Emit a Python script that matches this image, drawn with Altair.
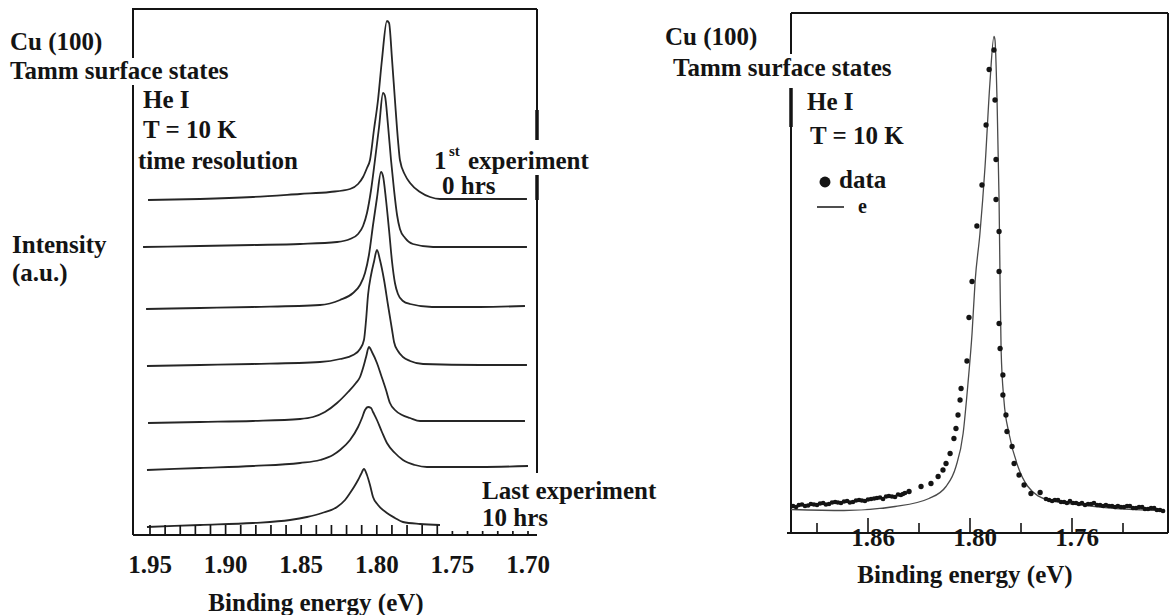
import altair as alt
import pandas as pd

# ---------------- left panel: successive spectra, stacked (a.u.) ----------------
s1_E = [1.9513, 1.9169, 1.8819, 1.8508, 1.8310, 1.8177, 1.8124, 1.8091, 1.8065, 1.8045, 1.8019, 1.7992,
        1.7966, 1.7933, 1.7919, 1.7899, 1.7880, 1.7860, 1.7847, 1.7813, 1.7780, 1.7714, 1.7648, 1.7582,
        1.7317, 1.7007]
s1_I = [67.0, 67.2, 67.6, 68.2, 68.6, 69.2, 70.2, 71.6, 73.4, 75.0, 81.0, 87.0,
        95.0, 102.8, 102.4, 95.0, 87.0, 79.0, 75.0, 72.0, 70.4, 68.6, 67.6, 67.2,
        67.2, 67.2]

s2_E = [1.9546, 1.9169, 1.8819, 1.8508, 1.8263, 1.8177, 1.8124, 1.8091, 1.8065, 1.8038, 1.8012, 1.7985,
        1.7959, 1.7946, 1.7926, 1.7906, 1.7886, 1.7866, 1.7847, 1.7813, 1.7761, 1.7628, 1.7317, 1.7007]
s2_I = [57.6, 57.8, 58.0, 58.2, 58.6, 59.2, 60.2, 61.8, 64.4, 69.0, 75.0, 81.6,
        88.4, 87.8, 82.0, 75.0, 69.0, 64.0, 61.2, 59.4, 58.2, 57.6, 57.6, 57.6]

s3_E = [1.9526, 1.9169, 1.8819, 1.8376, 1.8243, 1.8157, 1.8111, 1.8078, 1.8052, 1.8025, 1.7999, 1.7972,
        1.7959, 1.7939, 1.7919, 1.7899, 1.7880, 1.7860, 1.7827, 1.7780, 1.7635, 1.7317, 1.7020]
s3_I = [45.2, 45.4, 45.6, 46.0, 47.0, 48.4, 50.0, 52.4, 56.0, 62.0, 67.4, 72.6,
        71.8, 67.0, 61.0, 54.6, 50.4, 48.2, 46.8, 46.2, 45.6, 45.6, 45.8]

s4_E = [1.9520, 1.9169, 1.8819, 1.8376, 1.8243, 1.8157, 1.8111, 1.8085, 1.8071, 1.8058, 1.8038, 1.8019,
        1.7999, 1.7979, 1.7952, 1.7926, 1.7899, 1.7886, 1.7860, 1.7827, 1.7780, 1.7694, 1.7317, 1.7007]
s4_I = [33.8, 34.0, 34.2, 34.6, 35.2, 36.0, 37.2, 39.0, 43.0, 48.0, 52.0, 54.6,
        57.0, 55.0, 51.0, 46.0, 41.0, 38.6, 36.8, 35.6, 34.8, 34.2, 34.0, 34.0]

s5_E = [1.9513, 1.9169, 1.8819, 1.8508, 1.8422, 1.8343, 1.8263, 1.8190, 1.8138, 1.8111, 1.8091, 1.8071,
        1.8052, 1.8032, 1.7999, 1.7972, 1.7939, 1.7913, 1.7880, 1.7833, 1.7780, 1.7714, 1.7317, 1.7020]
s5_I = [22.4, 22.6, 22.8, 23.2, 23.6, 24.6, 26.4, 28.6, 30.4, 31.6, 33.4, 35.6,
        37.6, 36.6, 34.4, 32.0, 29.0, 26.4, 25.0, 24.0, 23.4, 22.8, 22.8, 22.8]

s6_E = [1.9520, 1.9169, 1.8819, 1.8508, 1.8376, 1.8290, 1.8243, 1.8177, 1.8124, 1.8098, 1.8078, 1.8058,
        1.8038, 1.8025, 1.7999, 1.7966, 1.7933, 1.7880, 1.7827, 1.7747, 1.7668, 1.7317, 1.7000]
s6_I = [13.0, 13.4, 13.8, 14.4, 15.0, 16.0, 17.0, 19.0, 21.6, 23.4, 25.0, 25.6,
        25.4, 24.6, 23.0, 20.6, 18.4, 16.4, 15.0, 14.0, 13.6, 13.6, 13.8]

s7_E = [1.9520, 1.9169, 1.8819, 1.8574, 1.8462, 1.8362, 1.8263, 1.8210, 1.8177, 1.8151, 1.8124, 1.8104,
        1.8085, 1.8065, 1.8045, 1.8025, 1.7992, 1.7933, 1.7880, 1.7827, 1.7714, 1.7582]
s7_I = [1.6, 2.0, 2.4, 3.0, 3.6, 4.4, 5.6, 7.0, 8.4, 9.6, 11.0, 12.2,
        13.2, 12.0, 10.0, 7.6, 6.0, 4.4, 3.4, 2.6, 2.2, 2.0]

left_tick_labels = [1.95, 1.90, 1.85, 1.80, 1.75, 1.70]
left_ticks_long = [1.95, 1.94, 1.93, 1.92, 1.91, 1.90, 1.89, 1.88, 1.87, 1.86,
                   1.85, 1.84, 1.83, 1.82, 1.81, 1.80, 1.79, 1.78, 1.77, 1.76]
left_ticks_short = [1.75, 1.74, 1.73, 1.72, 1.71, 1.70]

# ---------------- right panel: single spectrum with line shape fit ----------------
fit_E = [1.8702, 1.8494, 1.8294, 1.8161, 1.8094, 1.8055, 1.8027, 1.8008, 1.7992, 1.7980, 1.7961, 1.7941,
         1.7922, 1.7906, 1.7902, 1.7894, 1.7886, 1.7882, 1.7878, 1.7867, 1.7847, 1.7812, 1.7773, 1.7694,
         1.7561, 1.7427, 1.7255]
fit_I = [4.7, 4.5, 5.3, 6.9, 9.3, 13.3, 19.9, 29.9, 39.9, 50.3, 59.9, 73.3,
         89.9, 99.3, 98.6, 86.6, 66.6, 49.9, 36.6, 26.6, 19.9, 13.3, 9.3, 6.6,
         5.6, 4.9, 4.5]

peak_E = [1.7906, 1.7925, 1.7902, 1.7937, 1.7898, 1.7953, 1.7898, 1.7973, 1.7886, 1.7992, 1.7886, 1.8004,
          1.7886, 1.7882, 1.8012, 1.7871, 1.8035, 1.7871, 1.8039, 1.7859, 1.8047, 1.8055, 1.7855, 1.8063,
          1.7835, 1.8078, 1.7827, 1.8094, 1.8106, 1.7808, 1.8125, 1.8153, 1.7788, 1.8192, 1.7761, 1.7725,
          1.8239]
peak_I = [96.6, 92.7, 86.6, 81.6, 74.7, 69.6, 66.7, 61.4, 60.3, 50.3, 52.3, 43.1,
          41.9, 36.9, 34.4, 31.6, 28.9, 27.6, 26.6, 23.6, 23.6, 20.9, 20.3, 18.9,
          17.3, 15.9, 13.9, 13.9, 12.6, 11.6, 11.3, 9.9, 9.6, 9.3, 7.9, 8.1,
          8.3]

tail_E = [1.8694, 1.8682, 1.8671, 1.8659, 1.8647, 1.8635, 1.8624, 1.8612, 1.8600, 1.8588, 1.8576, 1.8565,
          1.8553, 1.8541, 1.8529, 1.8518, 1.8506, 1.8494, 1.8482, 1.8471, 1.8459, 1.8447, 1.8435, 1.8424,
          1.8412, 1.8400, 1.8388, 1.8376, 1.8365, 1.8353, 1.8341, 1.8329, 1.8318, 1.8306, 1.8294, 1.8282,
          1.8271, 1.8263, 1.8255,
          1.7702, 1.7690, 1.7678, 1.7667, 1.7655, 1.7643, 1.7631, 1.7620, 1.7608, 1.7596, 1.7584, 1.7573,
          1.7561, 1.7549, 1.7537, 1.7525, 1.7514, 1.7502, 1.7490, 1.7478, 1.7467, 1.7455, 1.7443, 1.7431,
          1.7420, 1.7408, 1.7396, 1.7384, 1.7373, 1.7361, 1.7349, 1.7337, 1.7325, 1.7314, 1.7302, 1.7290,
          1.7278, 1.7267, 1.7255, 1.7243]
tail_I = [5.4, 5.2, 5.6, 5.7, 5.4, 5.5, 5.8, 5.7, 5.6, 5.9, 6.0, 5.7,
          5.8, 6.1, 6.2, 6.1, 6.0, 6.3, 6.4, 6.1, 6.2, 6.5, 6.6, 6.5,
          6.4, 6.7, 6.8, 6.9, 7.0, 7.1, 6.8, 7.3, 7.4, 7.3, 7.2, 7.7,
          7.6, 7.8, 8.0,
          6.8, 6.6, 6.4, 6.6, 6.6, 6.2, 6.2, 6.0, 6.4, 6.0, 6.0, 5.8,
          6.0, 5.6, 5.8, 5.8, 6.0, 5.6, 5.6, 5.4, 5.6, 5.4, 5.4, 5.2,
          5.4, 5.2, 5.2, 5.4, 5.4, 5.0, 5.0, 5.2, 5.2, 4.8, 4.8, 5.0,
          5.0, 4.6, 4.6, 4.4]

right_ticks_major = [1.84, 1.80, 1.76]
right_ticks_minor = [1.86, 1.82, 1.78, 1.74]
right_label_at = [1.84, 1.80, 1.76]
right_label_text = ["1.86", "1.80", "1.76"]

# ---------------- tables ----------------
runs = [(s1_E, s1_I), (s2_E, s2_I), (s3_E, s3_I), (s4_E, s4_I),
        (s5_E, s5_I), (s6_E, s6_I), (s7_E, s7_I)]
rows = []
for r, (es, ins) in enumerate(runs):
    for k, (e, i) in enumerate(zip(es, ins)):
        rows.append({"run": r, "k": k, "E": e, "I": i})
spectra = pd.DataFrame(rows)
fit = pd.DataFrame({"E": fit_E, "I": fit_I, "k": range(len(fit_E))})
peak = pd.DataFrame({"E": peak_E, "I": peak_I})
tail = pd.DataFrame({"E": tail_E, "I": tail_I})

FONT = "Liberation Serif"
INK = "#141414"
blank = alt.Data(values=[{}])

xL = alt.Scale(domain=[1.95, 1.70], range=[150, 528], nice=False, zero=False)
yL = alt.Scale(domain=[0, 100], range=[535, 35], nice=False, zero=False)
xR = alt.Scale(domain=[1.84, 1.76], range=[868, 1072], nice=False, zero=False)
yR = alt.Scale(domain=[0, 100], range=[533, 33], nice=False, zero=False)


def seg(x1, y1, x2, y2, w=2.0):
    return alt.Chart(blank).mark_rule(color=INK, strokeWidth=w).encode(
        x=alt.value(x1), x2=alt.value(x2), y=alt.value(y1), y2=alt.value(y2))


def note(txt, x, y, size=25, align="left"):
    return alt.Chart(blank).mark_text(
        text=txt, font=FONT, fontSize=size, fontWeight="bold",
        align=align, baseline="middle", color=INK).encode(x=alt.value(x), y=alt.value(y))


layers = []

# frames
layers += [
    seg(133, 9, 537, 9), seg(133, 8, 133, 58), seg(133, 85, 133, 535),
    seg(537, 9, 537, 140), seg(537, 110, 537, 140, 3.5), seg(537, 175, 537, 473),
    seg(537, 175, 537, 200, 3.5), seg(133, 535, 537, 535),
    seg(791, 13, 1168, 13), seg(791, 13, 791, 54), seg(791, 88, 791, 533),
    seg(791, 88, 791, 127, 3.5), seg(1168, 13, 1168, 533), seg(787, 533, 1168, 533),
]

# left spectra
layers.append(alt.Chart(spectra).mark_line(color="#262626", strokeWidth=1.8, interpolate="monotone").encode(
    x=alt.X("E:Q", scale=xL, axis=None),
    y=alt.Y("I:Q", scale=yL, axis=None),
    detail="run:N", order="k:Q"))

# left axis ticks and labels
layers.append(alt.Chart(pd.DataFrame({"E": left_ticks_long})).mark_rule(color=INK, strokeWidth=1.7).encode(
    x=alt.X("E:Q", scale=xL, axis=None), y=alt.value(535), y2=alt.value(525)))
layers.append(alt.Chart(pd.DataFrame({"E": left_ticks_short})).mark_rule(color=INK, strokeWidth=1.7).encode(
    x=alt.X("E:Q", scale=xL, axis=None), y=alt.value(535), y2=alt.value(531)))
layers.append(alt.Chart(pd.DataFrame({"E": left_tick_labels})).mark_text(
    font=FONT, fontSize=25, fontWeight="bold", baseline="middle", color=INK).encode(
    x=alt.X("E:Q", scale=xL, axis=None), y=alt.value(565), text=alt.Text("E:Q", format=".2f")))

# right spectrum: fit line and data
layers.append(alt.Chart(fit).mark_line(color="#4a4a4a", strokeWidth=1.3, interpolate="monotone").encode(
    x=alt.X("E:Q", scale=xR, axis=None), y=alt.Y("I:Q", scale=yR, axis=None), order="k:Q"))
layers.append(alt.Chart(tail).mark_circle(color=INK, size=22, opacity=1).encode(
    x=alt.X("E:Q", scale=xR, axis=None), y=alt.Y("I:Q", scale=yR, axis=None)))
layers.append(alt.Chart(peak).mark_circle(color=INK, size=28, opacity=1).encode(
    x=alt.X("E:Q", scale=xR, axis=None), y=alt.Y("I:Q", scale=yR, axis=None)))

# right axis ticks and labels
layers.append(alt.Chart(pd.DataFrame({"E": right_ticks_major})).mark_rule(color=INK, strokeWidth=1.6).encode(
    x=alt.X("E:Q", scale=xR, axis=None), y=alt.value(533), y2=alt.value(518)))
layers.append(alt.Chart(pd.DataFrame({"E": right_ticks_minor})).mark_rule(color=INK, strokeWidth=1.6).encode(
    x=alt.X("E:Q", scale=xR, axis=None), y=alt.value(533), y2=alt.value(523)))
layers.append(alt.Chart(pd.DataFrame({"E": right_label_at, "t": right_label_text})).mark_text(
    font=FONT, fontSize=25, fontWeight="bold", baseline="middle", color=INK, dx=5).encode(
    x=alt.X("E:Q", scale=xR, axis=None), y=alt.value(538), text="t:N"))

# left annotations
layers += [
    note("Cu (100)", 10, 42), note("Tamm surface states", 10, 71),
    note("He I", 143, 100), note("T = 10 K", 143, 130), note("time resolution", 138, 161),
    note("1", 434, 161), note("st", 449, 151, 15), note("experiment", 468, 161),
    note("0 hrs", 442, 186),
    note("Intensity", 12, 245), note("(a.u.)", 12, 273),
    note("Last experiment", 482, 491), note("10 hrs", 482, 518),
    note("Binding energy (eV)", 316, 603, align="center"),
]

# right annotations and key
layers += [
    note("Cu (100)", 665, 37), note("Tamm surface states", 673, 68),
    note("He I", 807, 102), note("T = 10 K", 810, 136),
    alt.Chart(blank).mark_point(filled=True, shape="circle", size=120, color=INK, opacity=1).encode(
        x=alt.value(825), y=alt.value(182)),
    note("data", 839, 180),
    seg(817, 207, 844, 207, 1.5),
    note("e", 858, 207, 20),
    note("Binding energy (eV)", 965, 575, align="center"),
]

chart = alt.layer(*layers).resolve_scale(x="independent", y="independent").properties(
    width=1173, height=615, padding=0, background="white",
    autosize=alt.AutoSizeParams(type="none"),
).configure_view(stroke=None)

chart.save("out.html", embed_options={"renderer": "svg", "actions": False})
